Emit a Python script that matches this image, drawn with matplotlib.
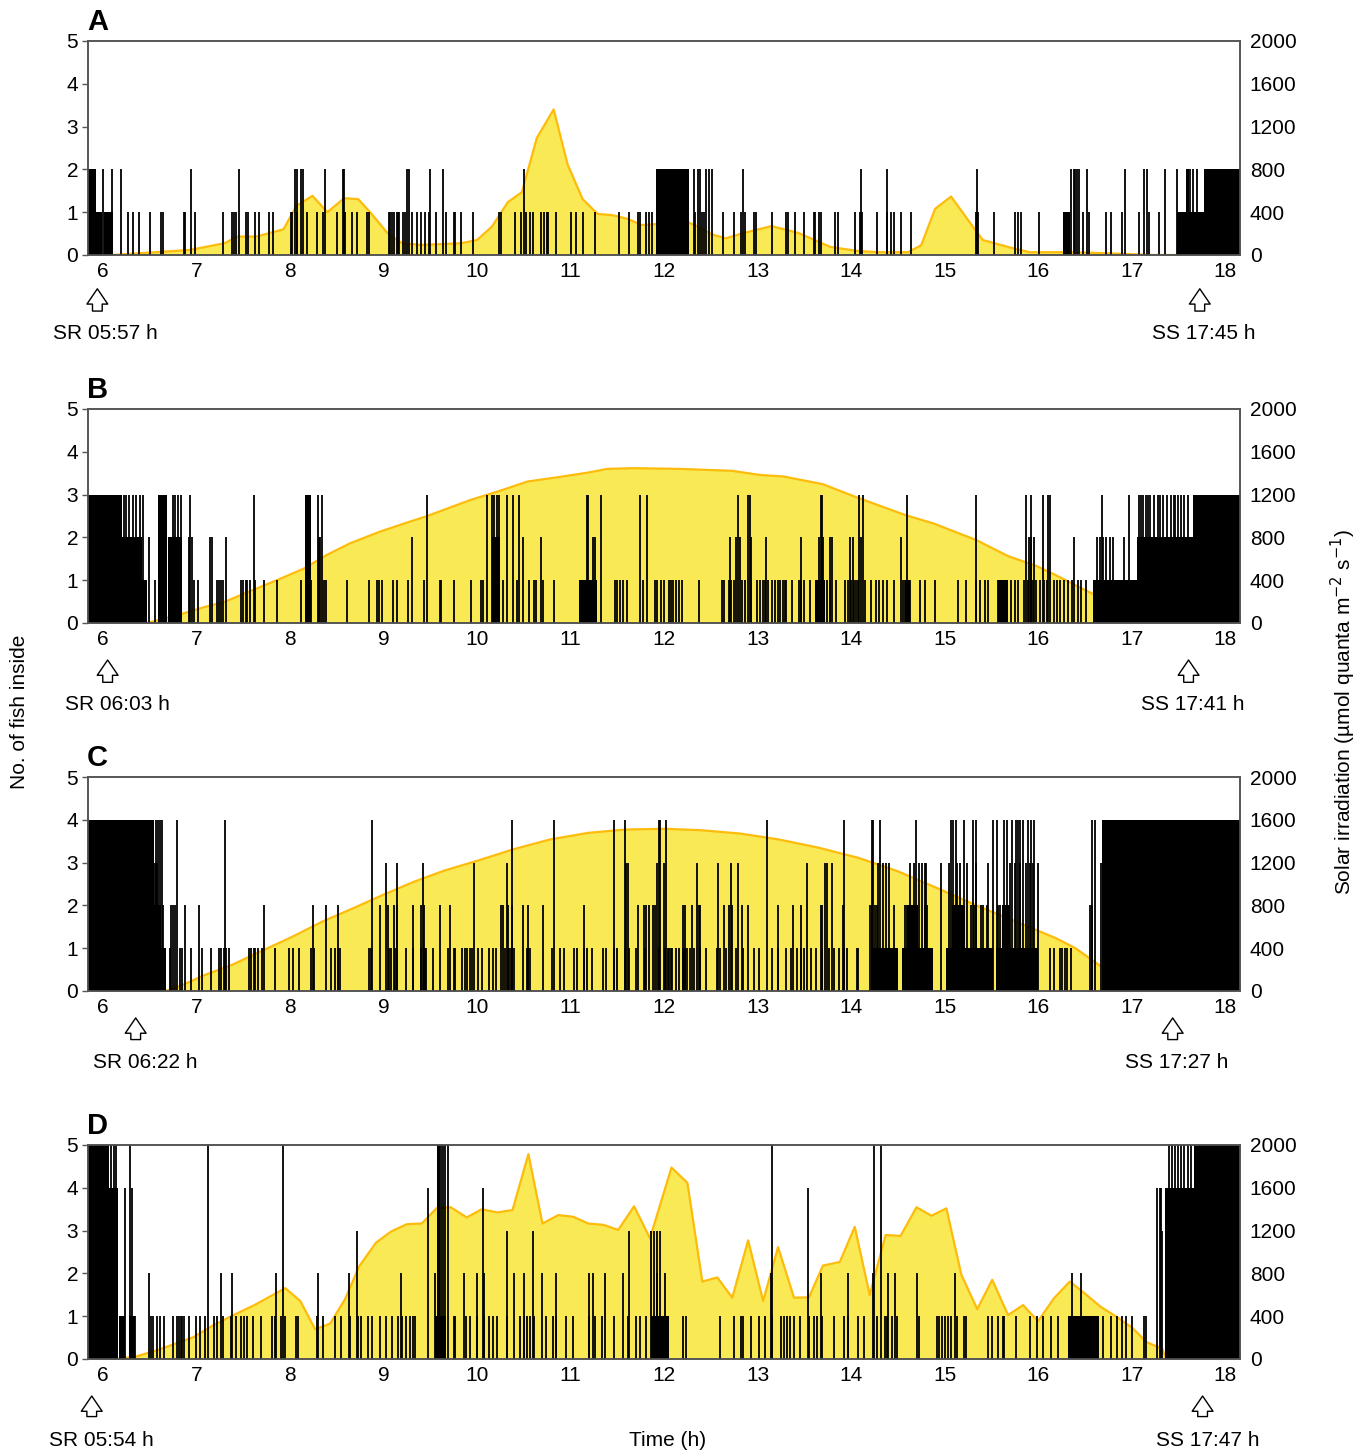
import matplotlib
matplotlib.use("Agg")
import matplotlib.pyplot as plt

plt.rcParams['font.family'] = ['Liberation Sans', 'DejaVu Sans']

# ---------------- data ----------------
# irradiance (hour, umol quanta m-2 s-1)
A_irr_t = [6.10, 6.93, 7.30, 7.44, 7.64, 7.93, 8.07, 8.24, 8.40, 8.58, 8.73, 8.86, 9.05, 9.20, 9.40,
           9.65, 9.83, 10.0, 10.16, 10.33, 10.48, 10.64, 10.82, 10.97, 11.13, 11.29, 11.45, 11.61, 11.76,
           11.97, 12.18, 12.35, 12.52, 12.66, 12.85, 13.15, 13.44, 13.78, 14.06, 14.29, 14.61, 14.75,
           14.90, 15.07, 15.34, 15.41, 15.68, 15.91, 16.29, 16.61, 17.24, 17.58]
A_irr_v = [0, 47, 110, 172, 172, 240, 460, 553, 400, 531, 522, 397, 197, 110, 94,
           103, 110, 140, 265, 494, 587, 1094, 1360, 844, 522, 384, 372, 338, 280,
           292, 335, 270, 190, 156, 205, 270, 205, 75, 39, 26, 26, 91,
           432, 546, 221, 140, 75, 26, 26, 20, 0, 0]

B_irr_t = [6.47, 6.85, 7.09, 7.30, 7.58, 7.86, 8.15, 8.39, 8.64, 8.96, 9.28, 9.45, 9.69, 9.93, 10.22,
           10.54, 10.86, 11.19, 11.39, 11.67, 12.18, 12.73, 13.02, 13.28, 13.70, 14.04, 14.58, 14.88,
           15.34, 15.68, 15.98, 16.19, 16.40, 16.58, 17.03, 17.41]
B_irr_v = [0, 87, 150, 197, 300, 400, 509, 634, 744, 853, 947, 994, 1072, 1150, 1228,
           1322, 1362, 1406, 1440, 1447, 1440, 1422, 1384, 1369, 1297, 1181, 1009, 931,
           775, 625, 534, 447, 353, 275, 125, 25]

C_irr_t = [6.67, 6.85, 7.09, 7.38, 7.70, 8.03, 8.35, 8.68, 9.00, 9.32, 9.65, 10.01, 10.38, 10.78,
           11.19, 11.59, 12.01, 12.39, 12.81, 13.23, 13.66, 14.08, 14.50, 14.92, 15.34, 15.76,
           16.19, 16.40, 16.65, 16.72]
C_irr_v = [0, 56, 150, 244, 375, 509, 650, 775, 900, 1019, 1125, 1219, 1322, 1416,
           1478, 1509, 1516, 1503, 1472, 1416, 1338, 1244, 1119, 962, 800, 650,
           494, 400, 244, 200]

D_irr_t = [6.16, 6.36, 6.57, 6.77, 6.97, 7.18, 7.38, 7.62, 7.95, 8.11, 8.27, 8.43, 8.59, 8.74, 8.92,
           9.08, 9.25, 9.41, 9.57, 9.72, 9.89, 10.05, 10.22, 10.38, 10.55, 10.70, 10.87, 11.03, 11.19,
           11.35, 11.51, 11.68, 11.85, 12.08, 12.25, 12.41, 12.57, 12.73, 12.90, 13.06, 13.22, 13.39,
           13.55, 13.70, 13.88, 14.04, 14.20, 14.37, 14.53, 14.70, 14.86, 15.02, 15.18, 15.35, 15.51,
           15.68, 15.84, 16.00, 16.17, 16.34, 16.51, 16.67, 16.84, 17.01, 17.16, 17.33, 17.37]
D_irr_v = [0, 25, 79, 142, 205, 315, 403, 504, 662, 542, 277, 331, 561, 866, 1087,
           1191, 1260, 1266, 1411, 1418, 1323, 1399, 1370, 1392, 1915, 1266, 1345, 1329, 1266,
           1254, 1206, 1427, 1128, 1789, 1647, 724, 762, 573, 1109, 542, 1046, 573,
           576, 873, 907, 1235, 598, 1159, 1150, 1418, 1339, 1408, 788, 466, 740,
           410, 504, 353, 567, 724, 605, 488, 394, 290, 158, 95, 0]

# fish counts: dense periods (start, end, no. of fish) and single events by count
A_blocks = [(5.84, 5.93, 2), (5.93, 5.99, 1), (6.01, 6.11, 1), (11.91, 12.27, 2), (16.27, 16.34, 1),
            (17.49, 17.77, 1), (17.58, 17.61, 2), (17.77, 18.16, 2)]
A_n2 = [6.0, 6.1, 6.19, 6.94, 7.45, 8.05, 8.07, 8.12, 8.14, 8.37, 8.57, 8.58, 9.25, 9.27, 9.50, 9.64,
        10.50, 12.32, 12.36, 12.39, 12.45, 12.48, 12.51, 12.85, 14.11, 14.39, 15.35, 16.35, 16.38,
        16.40, 16.42, 16.44, 16.52, 16.93, 17.13, 17.17, 17.36, 17.49, 17.60, 17.62, 17.66, 17.70]
A_n1 = [6.27, 6.32, 6.39, 6.50, 6.62, 6.64, 6.87, 6.88, 6.98, 7.28, 7.38, 7.40, 7.42, 7.53, 7.55,
        7.63, 7.67, 7.78, 7.82, 8.01, 8.02, 8.08, 8.18, 8.29, 8.35, 8.50, 8.59, 8.66, 8.72, 8.82,
        8.85, 9.06, 9.07, 9.09, 9.11, 9.14, 9.15, 9.17, 9.21, 9.23, 9.30, 9.36, 9.40, 9.44, 9.49,
        9.56, 9.67, 9.75, 9.77, 9.83, 9.96, 10.24, 10.26, 10.41, 10.47, 10.52, 10.57, 10.60, 10.68,
        10.72, 10.75, 10.76, 10.85, 11.01, 11.06, 11.13, 11.26, 11.52, 11.63, 11.72, 11.74, 11.81,
        11.84, 11.87, 12.33, 12.41, 12.43, 12.63, 12.75, 12.82, 12.87, 12.96, 12.98, 13.16, 13.30,
        13.33, 13.40, 13.50, 13.60, 13.61, 13.66, 13.68, 13.83, 13.86, 14.04, 14.10, 14.12, 14.28,
        14.38, 14.43, 14.46, 14.53, 14.64, 15.34, 15.36, 15.53, 15.75, 15.79, 15.82, 16.01, 16.48,
        16.55, 16.73, 16.78, 16.90, 17.08, 17.19, 17.29]

B_blocks = [(5.84, 6.20, 3), (6.20, 6.42, 2), (6.42, 6.47, 1), (6.59, 6.68, 3), (6.70, 6.84, 2),
            (8.16, 8.22, 3), (10.16, 10.25, 2), (11.09, 11.28, 1), (13.62, 13.72, 1), (14.58, 14.63, 1),
            (15.57, 15.68, 1), (16.59, 18.16, 1), (17.06, 18.16, 2), (17.66, 18.16, 3)]
B_n3 = [6.22, 6.25, 6.28, 6.32, 6.35, 6.40, 6.43, 6.75, 6.77, 6.80, 6.83, 6.93, 7.61, 8.30, 8.34,
        9.47, 10.11, 10.16, 10.18, 10.21, 10.24, 10.32, 10.38, 10.45, 11.18, 11.19, 11.33, 11.74,
        11.82, 12.79, 12.90, 12.92, 13.68, 13.69, 14.09, 14.13, 14.60, 15.34, 15.87, 15.92, 16.05,
        16.11, 16.13, 16.68, 16.97, 17.08, 17.10, 17.12, 17.15, 17.18, 17.20, 17.24, 17.28, 17.30,
        17.34, 17.38, 17.42, 17.45, 17.47, 17.50, 17.53, 17.56, 17.60]
B_n2 = [6.49, 6.92, 6.95, 7.14, 7.17, 7.32, 8.31, 8.32, 9.30, 10.49, 10.68, 11.24, 11.26, 12.71,
        12.77, 12.81, 12.93, 13.09, 13.47, 13.66, 13.70, 13.77, 13.80, 13.99, 14.02, 14.11, 14.53,
        15.90, 15.93, 15.96, 16.39, 16.63, 16.66, 16.70, 16.73, 16.77, 16.80, 16.92]
B_n1 = [6.56, 6.97, 7.02, 7.22, 7.24, 7.26, 7.28, 7.48, 7.50, 7.53, 7.54, 7.57, 7.63, 7.72, 7.86,
        8.12, 8.22, 8.36, 8.39, 8.61, 8.85, 8.93, 8.95, 8.98, 9.10, 9.14, 9.26, 9.43, 9.60, 9.62,
        9.75, 9.94, 10.04, 10.06, 10.23, 10.28, 10.43, 10.56, 10.61, 10.63, 10.71, 10.82, 11.48,
        11.50, 11.53, 11.56, 11.60, 11.78, 11.90, 11.93, 11.97, 12.0, 12.05, 12.07, 12.10, 12.13,
        12.16, 12.19, 12.37, 12.62, 12.64, 12.69, 12.72, 12.75, 12.83, 12.87, 12.93, 12.99, 13.03,
        13.06, 13.08, 13.11, 13.16, 13.19, 13.22, 13.24, 13.27, 13.29, 13.31, 13.37, 13.44, 13.47,
        13.50, 13.56, 13.63, 13.74, 13.77, 13.84, 13.94, 13.97, 14.00, 14.03, 14.05, 14.08, 14.15,
        14.21, 14.27, 14.30, 14.34, 14.39, 14.46, 14.56, 14.58, 14.61, 14.63, 14.74, 14.79, 14.90,
        15.14, 15.23, 15.34, 15.38, 15.43, 15.47, 15.57, 15.59, 15.61, 15.63, 15.65, 15.67, 15.71,
        15.75, 15.79, 15.85, 15.89, 15.92, 15.95, 15.98, 16.02, 16.06, 16.10, 16.17, 16.20, 16.23,
        16.28, 16.32, 16.36, 16.43, 16.46, 16.51]

C_blocks = [(5.84, 6.55, 4), (6.55, 6.62, 2), (6.62, 6.67, 1), (14.22, 14.50, 1), (14.55, 14.88, 1),
            (14.60, 14.72, 2), (15.02, 15.52, 1), (15.08, 15.22, 2), (15.55, 16.00, 1), (15.62, 15.70, 2),
            (16.68, 18.16, 4)]
C_n4 = [6.57, 6.59, 6.61, 6.63, 6.79, 7.30, 8.88, 10.37, 10.82, 11.46, 11.58, 11.95, 11.96, 12.02,
        13.10, 13.92, 14.22, 14.24, 14.31, 14.70, 15.07, 15.09, 15.12, 15.21, 15.30, 15.34, 15.52,
        15.56, 15.64, 15.67, 15.72, 15.76, 15.79, 15.81, 15.84, 15.89, 15.92, 15.96, 16.58, 16.61]
C_n3 = [6.56, 6.58, 9.03, 9.14, 9.42, 9.97, 10.32, 11.59, 11.61, 11.93, 12.0, 12.35, 12.58, 12.72,
        12.79, 13.53, 13.72, 13.74, 13.80, 14.29, 14.34, 14.37, 14.41, 14.63, 14.67, 14.73, 14.76,
        14.79, 14.80, 14.96, 15.05, 15.13, 15.17, 15.24, 15.34, 15.47, 15.70, 15.75, 15.81, 15.87,
        15.91, 15.95, 16.00, 16.67]
C_n2 = [6.64, 6.73, 6.75, 6.77, 6.88, 7.03, 7.72, 8.25, 8.38, 8.51, 8.96, 9.05, 9.11, 9.14, 9.32,
        9.40, 9.43, 9.60, 9.71, 10.26, 10.28, 10.33, 10.37, 10.49, 10.55, 10.71, 11.14, 11.72, 11.79,
        11.81, 11.84, 11.88, 11.90, 12.20, 12.22, 12.30, 12.37, 12.39, 12.64, 12.70, 12.73, 12.83,
        12.90, 13.22, 13.38, 13.46, 13.68, 13.69, 13.91, 14.20, 14.22, 14.26, 14.28, 14.46, 14.58,
        14.60, 14.71, 14.79, 14.81, 15.28, 15.32, 15.39, 15.41, 15.45, 15.57, 15.59, 16.56, 16.58]
C_n1 = [6.72, 6.82, 6.84, 6.94, 7.06, 7.16, 7.24, 7.26, 7.29, 7.32, 7.35, 7.56, 7.58, 7.61, 7.63,
        7.66, 7.70, 7.84, 7.99, 8.03, 8.10, 8.23, 8.26, 8.44, 8.48, 8.51, 8.53, 8.84, 8.87, 9.06,
        9.08, 9.12, 9.24, 9.32, 9.40, 9.44, 9.46, 9.53, 9.69, 9.75, 9.77, 9.84, 9.87, 9.89, 9.93,
        9.95, 10.01, 10.05, 10.13, 10.17, 10.20, 10.30, 10.34, 10.36, 10.40, 10.53, 10.55, 10.57,
        10.80, 10.89, 10.93, 11.04, 11.07, 11.14, 11.18, 11.23, 11.35, 11.38, 11.46, 11.50, 11.58,
        11.63, 11.70, 11.80, 11.95, 12.01, 12.04, 12.05, 12.08, 12.09, 12.13, 12.16, 12.20, 12.22,
        12.25, 12.28, 12.32, 12.39, 12.45, 12.57, 12.60, 12.66, 12.77, 12.85, 12.96, 13.02, 13.15,
        13.22, 13.30, 13.36, 13.42, 13.46, 13.50, 13.57, 13.63, 13.69, 13.76, 13.82, 13.87, 13.92,
        13.96, 14.06, 14.08, 16.13, 16.17, 16.24, 16.26, 16.29, 16.31, 16.35]

D_blocks = [(5.84, 6.06, 5), (6.06, 6.16, 4), (6.17, 6.23, 1), (6.28, 6.34, 1), (9.55, 9.67, 1),
            (9.57, 9.60, 5), (11.86, 12.05, 1), (16.32, 16.65, 1), (17.36, 18.16, 4), (17.67, 18.16, 5)]
D_n5 = [6.09, 6.12, 6.14, 6.29, 7.12, 7.93, 9.62, 9.64, 9.66, 9.69, 13.16, 14.25, 14.32, 17.40,
        17.43, 17.47, 17.50, 17.53, 17.56, 17.60, 17.64]
D_n4 = [6.24, 6.31, 9.48, 10.06, 13.54, 17.27, 17.30, 17.32]
D_n3 = [6.15, 8.72, 10.32, 10.60, 11.63, 11.86, 11.89, 11.93, 11.96, 17.33]
D_n2 = [6.49, 7.26, 7.38, 7.85, 8.30, 8.63, 9.19, 9.55, 9.86, 10.00, 10.07, 10.40, 10.50, 10.70,
        10.84, 11.20, 11.24, 11.37, 11.56, 11.92, 12.01, 13.14, 13.68, 13.97, 14.24, 14.40, 14.47,
        14.71, 15.11, 16.36, 16.46]
D_n1 = [6.19, 6.22, 6.32, 6.34, 6.51, 6.53, 6.58, 6.61, 6.65, 6.75, 6.79, 6.81, 6.83, 6.85, 6.87,
        6.92, 6.99, 7.04, 7.09, 7.19, 7.22, 7.28, 7.37, 7.42, 7.48, 7.51, 7.54, 7.60, 7.69, 7.81,
        7.84, 7.90, 7.95, 8.06, 8.09, 8.29, 8.35, 8.48, 8.55, 8.64, 8.73, 8.76, 8.83, 8.88, 8.96,
        9.03, 9.09, 9.16, 9.20, 9.24, 9.28, 9.32, 9.34, 9.75, 9.77, 9.88, 9.92, 10.00, 10.07, 10.13,
        10.17, 10.21, 10.32, 10.46, 10.50, 10.54, 10.57, 10.61, 10.74, 10.81, 10.85, 10.95, 11.03,
        11.20, 11.26, 11.34, 11.46, 11.62, 11.70, 11.74, 11.81, 12.20, 12.23, 12.60, 12.75, 12.82,
        12.84, 12.93, 13.02, 13.08, 13.15, 13.25, 13.28, 13.32, 13.35, 13.39, 13.45, 13.55, 13.60,
        13.64, 13.69, 13.82, 13.93, 13.97, 14.08, 14.14, 14.28, 14.36, 14.39, 14.44, 14.49, 14.73,
        14.92, 14.94, 14.97, 15.01, 15.04, 15.07, 15.13, 15.21, 15.23, 15.46, 15.51, 15.57, 15.63,
        15.64, 15.76, 15.91, 15.99, 16.05, 16.14, 16.21, 16.70, 16.78, 16.84, 16.90, 16.94, 17.00,
        17.13, 17.16]

# sunrise / sunset arrows: (arrow x, label x, label)
sun = {
    'A': [(5.94, 6.03, 'SR 05:57 h'), (17.73, 17.77, 'SS 17:45 h')],
    'B': [(6.05, 6.16, 'SR 06:03 h'), (17.61, 17.66, 'SS 17:41 h')],
    'C': [(6.35, 6.45, 'SR 06:22 h'), (17.44, 17.48, 'SS 17:27 h')],
    'D': [(5.88, 5.98, 'SR 05:54 h'), (17.76, 17.81, 'SS 17:47 h')],
}
# vertical placement of arrow tip, tail, label (axes fraction)
sun_y = {'A': (-0.145, -0.275, -0.365), 'B': (-0.16, -0.29, -0.383),
         'C': (-0.113, -0.24, -0.332), 'D': (-0.16, -0.282, -0.379)}

panels = [
    ('A', A_irr_t, A_irr_v, A_blocks, {2: A_n2, 1: A_n1}),
    ('B', B_irr_t, B_irr_v, B_blocks, {3: B_n3, 2: B_n2, 1: B_n1}),
    ('C', C_irr_t, C_irr_v, C_blocks, {4: C_n4, 3: C_n3, 2: C_n2, 1: C_n1}),
    ('D', D_irr_t, D_irr_v, D_blocks, {5: D_n5, 4: D_n4, 3: D_n3, 2: D_n2, 1: D_n1}),
]
bottoms_px = [255, 623, 991, 1359]

W, H = 1369, 1452
fig = plt.figure(figsize=(W / 100, H / 100), dpi=100)

fill_col = '#F9EA55'
line_col = '#FDBB0A'
spine_col = '#555555'
fs = 15

for (name, it, iv, blocks, events), bpx in zip(panels, bottoms_px):
    ax = fig.add_axes([88 / W, 1 - bpx / H, (1240 - 88) / W, 214 / H])
    ax2 = ax.twinx()
    ax.set_zorder(ax2.get_zorder() + 1)
    ax.patch.set_visible(False)

    # irradiance
    ax2.fill_between(it, iv, 0, color=fill_col, lw=0)
    ax2.plot(it, iv, color=line_col, lw=1.6)
    ax2.set_ylim(0, 2000)
    ax2.set_yticks(range(0, 2001, 400))

    # fish
    for s, e, n in blocks:
        ax.bar(s, n, width=e - s, align='edge', color='black', lw=0)
    for n, times in events.items():
        ax.vlines(times, 0, n, color='black', lw=1.3)

    ax.set_xlim(5.84, 18.16)
    ax.set_ylim(0, 5)
    ax.set_yticks(range(6))
    ax.set_xticks(range(6, 19))

    ax.tick_params(axis='y', length=4, width=1, color=spine_col, labelsize=fs, pad=3)
    ax.tick_params(axis='x', length=0, labelsize=fs, pad=5)
    ax2.tick_params(axis='y', length=0, labelsize=fs, pad=7)
    for a in (ax, ax2):
        for sp in a.spines.values():
            sp.set_color(spine_col)
            sp.set_linewidth(1.2)

    ax.text(-0.001, 1.09, name, transform=ax.transAxes, fontsize=21, fontweight='bold',
            ha='left', va='center')

    tip, tail, lab = sun_y[name]
    for xa, xl, txt in sun[name]:
        ax.annotate('', xy=(xa, tip), xytext=(xa, tail),
                    xycoords=('data', 'axes fraction'), textcoords=('data', 'axes fraction'),
                    arrowprops=dict(arrowstyle='simple,head_length=0.55,head_width=0.75,tail_width=0.35',
                                    mutation_scale=20, fc='white', ec='black', lw=1),
                    annotation_clip=False)
        ax.text(xl, lab, txt, transform=ax.get_xaxis_transform(), fontsize=fs,
                ha='center', va='center')

fig.text(20 / W, 1 - 712 / H, 'No. of fish inside', rotation=90, fontsize=fs,
         ha='center', va='center')
fig.text(1343 / W, 1 - 712 / H, 'Solar irradiation (\u00b5mol quanta m$^{\u22122}$ s$^{\u22121}$)',
         rotation=90, fontsize=fs, ha='center', va='center')
fig.text(668 / W, 1 - 1440 / H, 'Time (h)', fontsize=fs, ha='center', va='center')

fig.savefig('out.png', dpi=100)
